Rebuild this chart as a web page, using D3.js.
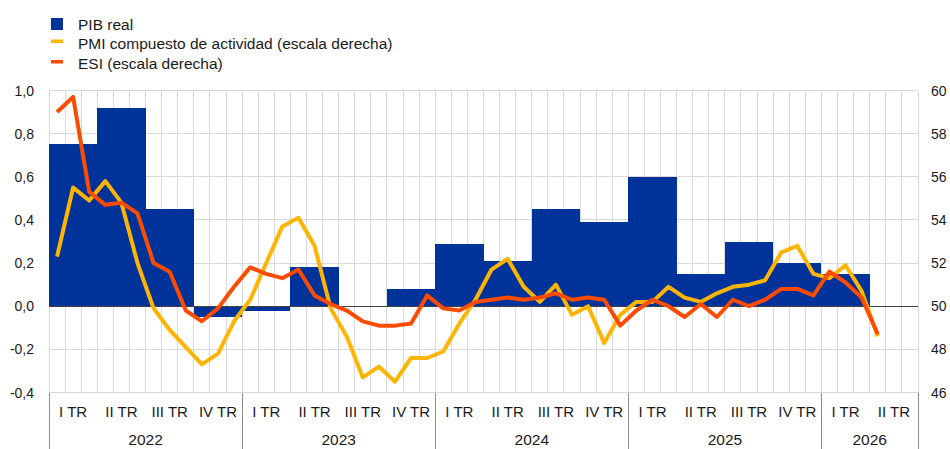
<!DOCTYPE html>
<html>
<head>
<meta charset="utf-8">
<script src="https://cdn.jsdelivr.net/npm/d3@7"></script>
<style>
  body { margin: 0; background: #fff; }
  text { font-family: "Liberation Sans", Arial, sans-serif; fill: #1a1a1a; }
</style>
</head>
<body>
<div id="chart"></div>
<script>
// ---------------------------//
//           DATA             //
// ---------------------------//

const years = ["2022", "2023", "2024", "2025", "2026"];
const quartersPerYear = [4, 4, 4, 4, 2];
const quarterLabels = ["I TR", "II TR", "III TR", "IV TR"];

// Real GDP, quarter-on-quarter % (left scale)
const gdp = [0.75, 0.92, 0.45, -0.05,
             -0.02, 0.18, 0.0, 0.08,
             0.29, 0.21, 0.45, 0.39,
             0.60, 0.15, 0.30, 0.20,
             0.15, null];

// Composite PMI, monthly (right scale)
const pmi = [52.3, 55.5, 54.9, 55.8, 54.8, 52.0, 49.9, 48.9, 48.1, 47.3, 47.8, 49.3,
             50.3, 52.0, 53.7, 54.1, 52.8, 49.9, 48.6, 46.7, 47.2, 46.5, 47.6, 47.6,
             47.9, 49.2, 50.3, 51.7, 52.2, 50.9, 50.2, 51.0, 49.6, 50.0, 48.3, 49.6,
             50.2, 50.2, 50.9, 50.4, 50.2, 50.6, 50.9, 51.0, 51.2, 52.5, 52.8, 51.5,
             51.3, 51.9, 50.7, 48.6];

// ESI, monthly (right scale)
const esi = [59.0, 59.7, 55.3, 54.7, 54.8, 54.3, 52.0, 51.6, 49.8, 49.3, 49.9, 50.9,
             51.8, 51.5, 51.3, 51.7, 50.5, 50.1, 49.8, 49.3, 49.1, 49.1, 49.2, 50.5,
             49.9, 49.8, 50.2, 50.3, 50.4, 50.3, 50.4, 50.6, 50.3, 50.4, 50.3, 49.1,
             49.8, 50.3, 50.0, 49.5, 50.1, 49.5, 50.3, 50.0, 50.3, 50.8, 50.8, 50.5,
             51.6, 51.1, 50.4, 48.7];

const leftTicks = [-0.4, -0.2, 0.0, 0.2, 0.4, 0.6, 0.8, 1.0];
const rightTicks = [46, 48, 50, 52, 54, 56, 58, 60];

const legendItems = [
  {label: "PIB real", color: "#003399", type: "box"},
  {label: "PMI compuesto de actividad (escala derecha)", color: "#FFB400", type: "line"},
  {label: "ESI (escala derecha)", color: "#FF4B00", type: "line"}
];

// ---------------------------//
//       SET  CANVAS          //
// ---------------------------//

const W = 950, H = 449;
const margin = {top: 90.5, right: 32, bottom: 56.5, left: 49};
const plotW = W - margin.left - margin.right,
      plotH = H - margin.top - margin.bottom;

const svg = d3.select("#chart")
  .append("svg")
  .attr("width", W)
  .attr("height", H);

// ---------------------------//
//       AXIS  AND SCALE      //
// ---------------------------//

// quarter and month keys built from the year structure
const quarters = [];
years.forEach((yr, i) => {
  for (let q = 0; q < quartersPerYear[i]; q++) quarters.push({year: yr, q: q, key: yr + "-Q" + (q + 1)});
});
const months = [];
quarters.forEach(d => { for (let m = 0; m < 3; m++) months.push(d.key + "-" + m); });

const xQ = d3.scaleBand().domain(quarters.map(d => d.key))
  .range([margin.left, margin.left + plotW]).padding(0);
const xM = d3.scaleBand().domain(months)
  .range([margin.left, margin.left + plotW]).padding(0);

const yL = d3.scaleLinear().domain([-0.4, 1.0]).range([margin.top + plotH, margin.top]);
const yR = d3.scaleLinear().domain([46, 60]).range([margin.top + plotH, margin.top]);

// gridlines
const grid = svg.append("g").attr("shape-rendering", "crispEdges");
grid.selectAll("hgrid")
  .data(leftTicks)
  .enter().append("line")
  .attr("x1", margin.left).attr("x2", margin.left + plotW)
  .attr("y1", d => yL(d)).attr("y2", d => yL(d))
  .attr("stroke", "#d9d9d9");

grid.selectAll("vgrid")
  .data(months.concat(["end"]))
  .enter().append("line")
  .attr("x1", d => d === "end" ? margin.left + plotW : xM(d))
  .attr("x2", d => d === "end" ? margin.left + plotW : xM(d))
  .attr("y1", margin.top).attr("y2", margin.top + plotH)
  .attr("stroke", "#d9d9d9");

// left tick labels
svg.selectAll("ltick")
  .data(leftTicks)
  .enter().append("text")
  .attr("x", 34)
  .attr("y", d => yL(d) + 5)
  .attr("text-anchor", "end")
  .style("font-size", "14px")
  .text(d => d3.format(".1f")(d).replace(".", ",").replace("−", "-"));

// right tick labels
svg.selectAll("rtick")
  .data(rightTicks)
  .enter().append("text")
  .attr("x", margin.left + plotW + 13)
  .attr("y", d => yR(d) + 5)
  .attr("text-anchor", "start")
  .style("font-size", "14px")
  .text(d => d);

// ---------------------------//
//           BARS             //
// ---------------------------//

svg.selectAll("bar")
  .data(quarters.map((d, i) => ({key: d.key, v: gdp[i]})).filter(d => d.v !== null && d.v !== 0))
  .enter().append("rect")
  .attr("x", d => xQ(d.key))
  .attr("width", xQ.bandwidth())
  .attr("y", d => Math.min(yL(d.v), yL(0)))
  .attr("height", d => Math.abs(yL(d.v) - yL(0)))
  .attr("fill", "#003399")
  .attr("shape-rendering", "crispEdges");

// zero line
svg.append("line")
  .attr("x1", margin.left).attr("x2", margin.left + plotW)
  .attr("y1", yL(0)).attr("y2", yL(0))
  .attr("stroke", "#404040")
  .attr("stroke-width", 1)
  .attr("shape-rendering", "crispEdges");

// ---------------------------//
//           LINES            //
// ---------------------------//

const line = d3.line()
  .x((d, i) => xM(months[i]) + xM.bandwidth() / 2)
  .y(d => yR(d));

svg.append("path")
  .datum(pmi)
  .attr("d", line)
  .attr("fill", "none")
  .attr("stroke", "#FFB400")
  .attr("stroke-width", 4)
  .attr("stroke-linejoin", "round");

svg.append("path")
  .datum(esi)
  .attr("d", line)
  .attr("fill", "none")
  .attr("stroke", "#FF4B00")
  .attr("stroke-width", 4)
  .attr("stroke-linejoin", "round");

// ---------------------------//
//      CATEGORY  AXIS        //
// ---------------------------//

const axisG = svg.append("g").attr("shape-rendering", "crispEdges");

// year separators
const yearStarts = years.map((yr, i) => xQ(yr + "-Q1"));
axisG.selectAll("sep")
  .data(yearStarts.concat([margin.left + plotW]))
  .enter().append("line")
  .attr("x1", d => d).attr("x2", d => d)
  .attr("y1", margin.top + plotH).attr("y2", H)
  .attr("stroke", "#8c8c8c");

// quarter labels
svg.selectAll("qlabel")
  .data(quarters)
  .enter().append("text")
  .attr("x", d => xQ(d.key) + xQ.bandwidth() / 2)
  .attr("y", 416.5)
  .attr("text-anchor", "middle")
  .style("font-size", "15px")
  .text(d => quarterLabels[d.q]);

// year labels
svg.selectAll("ylabel")
  .data(years)
  .enter().append("text")
  .attr("x", (d, i) => xQ(d + "-Q1") + xQ.bandwidth() * quartersPerYear[i] / 2)
  .attr("y", 445)
  .attr("text-anchor", "middle")
  .style("font-size", "15.5px")
  .text(d => d);

// ---------------------------//
//           LEGEND           //
// ---------------------------//

const legendY = [24, 41, 61.5];
const legend = svg.selectAll("legend")
  .data(legendItems)
  .enter().append("g")
  .attr("transform", (d, i) => `translate(51,${legendY[i]})`);

legend.filter(d => d.type === "box").append("rect")
  .attr("x", 0).attr("y", -6).attr("width", 12).attr("height", 12)
  .attr("fill", d => d.color);

legend.filter(d => d.type === "line").append("rect")
  .attr("x", 0).attr("y", -1.5).attr("width", 12).attr("height", 3.5)
  .attr("fill", d => d.color);

legend.append("text")
  .attr("x", 27)
  .attr("y", (d, i) => i === 0 ? 6 : 7.5)
  .style("font-size", "15.5px")
  .text(d => d.label);
</script>
</body>
</html>
